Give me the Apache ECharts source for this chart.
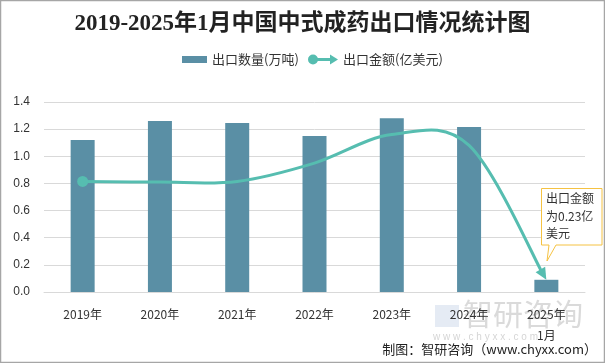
<!DOCTYPE html>
<html><head><meta charset="utf-8">
<script src="https://cdn.jsdelivr.net/npm/echarts@6/dist/echarts.min.js"></script>
<style>html,body{margin:0;padding:0;background:#fff}#c{width:605px;height:363px}</style>
</head><body><div id="c"></div>
<script>
const categories = ['2019年','2020年','2021年','2022年','2023年','2024年','2025年\n1月'];
const exportVolume = [1.12, 1.26, 1.245, 1.15, 1.28, 1.215, 0.09];
const exportValue = [0.815, 0.81, 0.815, 0.95, 1.16, 1.08, 0.09];
const yTicks = [0, 0.2, 0.4, 0.6, 0.8, 1.0, 1.2, 1.4];

const lineColor = '#56bdb0';
const chart = echarts.init(document.getElementById('c'));
const lineIcon = 'path://M5,0A5,5 0 1 1 5,10A5,5 0 1 1 5,0ZM9,3.5L22,3.5L22,0L30,5L22,10L22,6.5L9,6.5Z';

function renderSmoothLine(params, api) {
  if (params.dataIndex !== 0) return null;
  const pts = exportValue.map((v, i) => api.coord([i, v]));
  const n = pts.length;
  const P = i => pts[Math.max(0, Math.min(n - 1, i))];
  let d = 'M' + pts[0][0] + ',' + pts[0][1];
  let lastCp = null;
  for (let i = 0; i < n - 1; i++) {
    const p0 = P(i - 1), p1 = P(i), p2 = P(i + 1), p3 = P(i + 2);
    const c1 = [p1[0] + (p2[0] - p0[0]) / 6, p1[1] + (p2[1] - p0[1]) / 6];
    const c2 = [p2[0] - (p3[0] - p1[0]) / 6, p2[1] - (p3[1] - p1[1]) / 6];
    let end = p2;
    if (i === n - 2) {
      const dx = p2[0] - c2[0], dy = p2[1] - c2[1];
      const len = Math.hypot(dx, dy);
      end = [p2[0] - dx / len * 9, p2[1] - dy / len * 9];
      lastCp = c2;
    }
    d += 'C' + c1[0] + ',' + c1[1] + ' ' + c2[0] + ',' + c2[1] + ' ' + end[0] + ',' + end[1];
  }
  const tip = pts[n - 1];
  const dx = tip[0] - lastCp[0], dy = tip[1] - lastCp[1];
  const len = Math.hypot(dx, dy);
  const ux = dx / len, uy = dy / len;
  const bx = tip[0] - ux * 12, by = tip[1] - uy * 12;
  const w = 5.5;
  const arrow = [[tip[0], tip[1]], [bx - uy * w, by + ux * w], [bx + uy * w, by - ux * w]];
  return {
    type: 'group',
    children: [
      {type: 'path', shape: {pathData: d}, style: {fill: 'none', stroke: lineColor, lineWidth: 3}},
      {type: 'circle', shape: {cx: pts[0][0], cy: pts[0][1], r: 5.5}, style: {fill: lineColor}},
      {type: 'polygon', shape: {points: arrow}, style: {fill: lineColor}}
    ]
  };
}

chart.setOption({
  animation: false,
  title: {
    text: '2019-2025年1月中国中式成药出口情况统计图',
    left: 'center', top: 8,
    textStyle: {fontFamily: 'Liberation Serif, Noto Sans CJK SC', fontWeight: 'bold', fontSize: 23, color: '#222'}
  },
  legend: [
    {
      top: 48, left: 177, itemGap: 13,
      textStyle: {fontSize: 13, color: '#333', fontFamily: 'Noto Sans CJK SC'},
      itemWidth: 25, itemHeight: 7,
      data: [{name: '出口数量(万吨)', icon: 'rect', itemStyle: {color: '#5a8fa5'}}]
    },
    {
      top: 48, left: 303, itemGap: 13,
      textStyle: {fontSize: 13, color: '#333', fontFamily: 'Noto Sans CJK SC'},
      itemWidth: 30, itemHeight: 10,
      data: [{name: '出口金额(亿美元)', icon: lineIcon, itemStyle: {color: lineColor}}]
    }
  ],
  grid: {left: 44, right: 20, top: 102, bottom: 71},
  xAxis: {
    type: 'category', data: categories,
    axisLine: {show: true, lineStyle: {color: '#d9d9d9'}},
    axisTick: {show: false},
    axisLabel: {color: '#333', fontSize: 12, margin: 12, lineHeight: 21, fontFamily: 'Noto Sans CJK SC'}
  },
  yAxis: {
    type: 'value', min: 0, max: 1.4, interval: 0.2,
    axisLine: {show: false}, axisTick: {show: false},
    splitLine: {lineStyle: {color: '#d9d9d9'}},
    axisLabel: {color: '#333', fontSize: 12, margin: 14, formatter: v => v.toFixed(1)}
  },
  series: [
    {name: '出口数量(万吨)', type: 'bar', data: exportVolume, barWidth: 24, itemStyle: {color: '#5a8fa5'}},
    {name: '出口金额(亿美元)', type: 'custom', data: exportValue.map((v, i) => [i, v]), renderItem: renderSmoothLine,
     itemStyle: {color: lineColor}, encode: {x: 0, y: 1}, z: 5}
  ],
  graphic: [
    {type: 'rect', shape: {x: 0.5, y: 0.5, width: 604, height: 362}, style: {fill: 'none', stroke: '#a6a6a6', lineWidth: 1.5}, silent: true},
    {type: 'text', left: 463, top: 299, style: {text: '智研咨询', fontSize: 30, fill: 'rgba(150,150,150,0.35)', fontFamily: 'Noto Sans CJK SC'}, z: 0},
    {type: 'rect', shape: {x: 435, y: 305, width: 24, height: 22}, style: {fill: 'rgba(170,190,220,0.3)'}, z: 0},
    {type: 'text', left: 433, top: 332, style: {text: 'w w w . c h y x x . c o m', fontSize: 10, fill: 'rgba(150,150,150,0.4)'}, z: 0},
    {type: 'polygon', shape: {points: [[541.5,188.5],[602,188.5],[602,245],[556,245],[547,261],[549,245],[541.5,245]]}, style: {fill: '#fff', stroke: '#f5c242', lineWidth: 1}, z: 10},
    {type: 'text', left: 546, top: 190, style: {text: '出口金额\n为0.23亿\n美元', fontSize: 12, lineHeight: 17.5, fill: '#333', fontFamily: 'Noto Sans CJK SC'}, z: 11},
    {type: 'text', right: 8, top: 343, style: {text: '制图：智研咨询（www.chyxx.com）', fontSize: 13, fill: '#222', fontFamily: 'Noto Sans CJK SC'}, z: 11}
  ]
});
</script></body></html>
